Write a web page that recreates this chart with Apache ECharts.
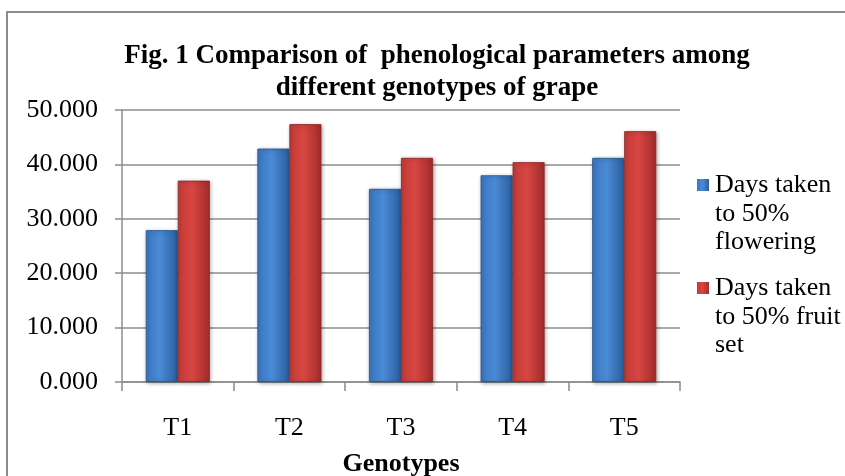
<!DOCTYPE html>
<html>
<head>
<meta charset="utf-8">
<script src="https://cdn.jsdelivr.net/npm/echarts@6/dist/echarts.min.js"></script>
<style>
  html, body { margin: 0; padding: 0; background: #fff; }
  #main { width: 845px; height: 476px; }
</style>
</head>
<body>
<div id="main"></div>
<script>
// data
var genotypes = ['T1', 'T2', 'T3', 'T4', 'T5'];
var flowering = [27.9, 42.9, 35.5, 38.0, 41.2];
var fruitSet = [37.0, 47.4, 41.2, 40.4, 46.1];
var seriesNames = ['Days taken\nto 50%\nflowering', 'Days taken\nto 50% fruit\nset'];

var chart = echarts.init(document.getElementById('main'));

function barGrad(light, mid, dark) {
  return new echarts.graphic.LinearGradient(0, 0, 1, 0, [
    { offset: 0, color: mid },
    { offset: 0.45, color: light },
    { offset: 1, color: dark }
  ]);
}
var blueFill = barGrad('#4a8ad6', '#3b77c0', '#2b5e9e');
var redFill = barGrad('#d84643', '#c43b38', '#a02c2a');

// legend square sitting on the first text line
var legIcon = 'path://M0,8 H12 V20 H0 Z M0,0 h0.01 v0.01 h-0.01 Z M0,84 h0.01 v0.01 h-0.01 Z';
var serif = 'Liberation Serif';

// legend texts are drawn as graphic text next to the legend squares
var legendTexts = seriesNames.map(function (name, i) {
  return {
    type: 'text', left: 715, top: 171 + i * 103, silent: true,
    style: { text: name, font: '26px "Liberation Serif"', fill: '#000', lineHeight: 28.5 }
  };
});

chart.setOption({
  animation: false,
  textStyle: { fontFamily: serif },
  title: {
    text: 'Fig. 1 Comparison of  phenological parameters among\ndifferent genotypes of grape',
    left: 432, top: 35, textAlign: 'center',
    textStyle: { fontFamily: serif, fontSize: 27, fontWeight: 'bold', color: '#000', lineHeight: 32 }
  },
  graphic: [{
    type: 'rect',
    shape: { x: 7, y: 12, width: 860, height: 480 },
    style: { fill: 'none', stroke: '#8c8c8c', lineWidth: 2 },
    silent: true
  }].concat(legendTexts),
  legend: {
    orient: 'vertical',
    left: 692, top: 166,
    itemWidth: 12, itemHeight: 84,
    itemGap: 19,
    icon: legIcon,
    itemStyle: { borderWidth: 0, shadowBlur: 0 },
    data: [seriesNames[0], seriesNames[1]],
    formatter: function () { return ''; }
  },
  grid: { left: 122, right: 165, top: 110, bottom: 94, outerBoundsMode: 'none' },
  xAxis: {
    type: 'category',
    data: genotypes,
    name: 'Genotypes',
    nameLocation: 'middle',
    nameGap: 69,
    nameTextStyle: { fontFamily: serif, fontSize: 26, fontWeight: 'bold', color: '#000' },
    axisLine: { lineStyle: { color: '#8c8c8c', width: 1.5 } },
    axisTick: { show: true, length: 9, lineStyle: { color: '#8c8c8c', width: 1.5 } },
    axisLabel: { fontFamily: serif, fontSize: 26, color: '#000', margin: 33 }
  },
  yAxis: {
    type: 'value',
    min: 0, max: 50, interval: 10,
    axisLine: { show: true, lineStyle: { color: '#8c8c8c', width: 1.5 } },
    axisTick: { show: true, length: 7, lineStyle: { color: '#8c8c8c', width: 1.5 } },
    splitLine: { lineStyle: { color: '#8c8c8c', width: 1.5 } },
    axisLabel: {
      fontFamily: serif, fontSize: 26, color: '#000', margin: 24,
      formatter: function (v) { return v.toFixed(3); }
    }
  },
  series: [
    {
      name: seriesNames[0], type: 'bar', data: flowering,
      barWidth: 32, barGap: '0%',
      itemStyle: { color: blueFill, borderColor: '#24508a', borderWidth: 0.8,
        shadowColor: 'rgba(0,0,0,0.35)', shadowBlur: 4, shadowOffsetX: 1, shadowOffsetY: 1 }
    },
    {
      name: seriesNames[1], type: 'bar', data: fruitSet,
      barWidth: 32, barGap: '0%',
      itemStyle: { color: redFill, borderColor: '#8a2523', borderWidth: 0.8,
        shadowColor: 'rgba(0,0,0,0.35)', shadowBlur: 4, shadowOffsetX: 1, shadowOffsetY: 1 }
    }
  ]
});
window.onresize = chart.resize;
</script>
</body>
</html>
